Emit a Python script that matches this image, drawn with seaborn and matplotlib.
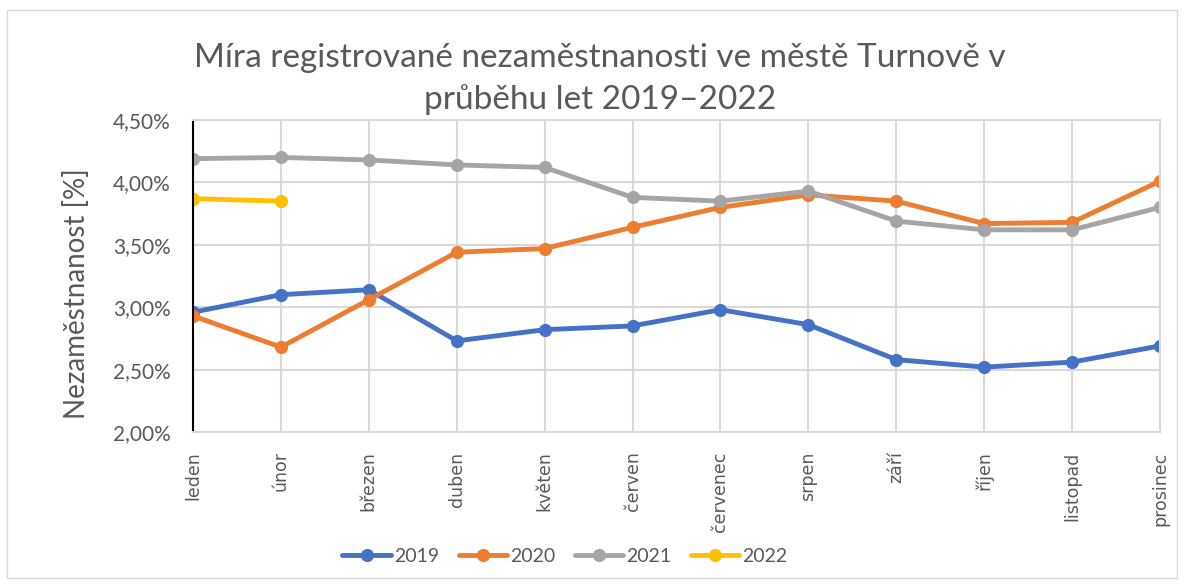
import matplotlib
matplotlib.use("Agg")
import matplotlib.pyplot as plt
import seaborn as sns
import pandas as pd
import numpy as np
from matplotlib.patches import Rectangle
from matplotlib.ticker import FuncFormatter

months = ["leden", "únor", "březen", "duben", "květen", "červen", "červenec",
          "srpen", "září", "říjen", "listopad", "prosinec"]
years = ["2019", "2020", "2021", "2022"]
v2019 = [2.96, 3.10, 3.14, 2.73, 2.82, 2.85, 2.98, 2.86, 2.58, 2.52, 2.56, 2.69]
v2020 = [2.93, 2.68, 3.06, 3.44, 3.47, 3.64, 3.80, 3.90, 3.85, 3.67, 3.68, 4.01]
v2021 = [4.19, 4.20, 4.18, 4.14, 4.12, 3.88, 3.85, 3.93, 3.69, 3.62, 3.62, 3.80]
v2022 = [3.87, 3.85]
colors = ["#4472C4", "#ED7D31", "#A5A5A5", "#FFC000"]

rows = []
for y, vals in zip(years, [v2019, v2020, v2021, v2022]):
    for i, v in enumerate(vals):
        rows.append({"pos": i, "month": months[i], "year": y, "value": v})
df = pd.DataFrame(rows)

sns.set_theme(style="white")
plt.rcParams['font.family'] = ['Lato', 'DejaVu Sans']

fig = plt.figure(figsize=(11.84, 5.88), dpi=100)
W, H = 1184, 588
ax = fig.add_axes([193 / W, 1 - 432 / H, (1160 - 193) / W, (432 - 120) / H])

sns.lineplot(data=df, x="pos", y="value", hue="year", palette=colors,
             marker="o", markersize=9.5, markeredgewidth=0, linewidth=3.5,
             ax=ax, legend=True, sort=False)

ax.set_xlim(0, len(months) - 1)
ax.set_ylim(2.0, 4.5)
ax.set_yticks(np.arange(2.0, 4.51, 0.5))
ax.yaxis.set_major_formatter(FuncFormatter(lambda v, p: f"{v:.2f}%".replace(".", ",")))
ax.set_xticks(range(len(months)))
ax.set_xticklabels(months, rotation=90, family=['DejaVu Sans'], fontsize=12.5, color="#595959")
ax.tick_params(axis="y", labelsize=15, colors="#595959", length=0, pad=16)
ax.tick_params(axis="x", length=0, pad=14)
ax.grid(True, color="#D9D9D9", linewidth=1.5)
ax.set_axisbelow(True)
for s in ["top", "right", "bottom"]:
    ax.spines[s].set_color("#D9D9D9")
    ax.spines[s].set_linewidth(1.5)
ax.spines["left"].set_color("black")
ax.spines["left"].set_linewidth(1.5)
ax.set_xlabel("")
ax.set_ylabel("Nezaměstnanost [%]", fontsize=20, color="#595959", labelpad=10)
ax.yaxis.set_label_coords(-0.106, (432 - 294) / 312)

handles, labels = ax.get_legend_handles_labels()
ax.legend_.remove()
fig.legend(handles, labels, loc="center", bbox_to_anchor=(565 / W, 1 - 556 / H),
           ncol=4, frameon=False, fontsize=14, handlelength=2.5, columnspacing=1.0,
           handletextpad=0.15, labelcolor="#595959")

fig.text(600 / W, 1 - 79 / H,
         "Míra registrované nezaměstnanosti ve městě Turnově v\nprůběhu let 2019–2022",
         ha="center", va="center", fontsize=24, color="#595959", linespacing=1.42)

fig.patches.append(Rectangle((7 / W, 10 / H), (1177 - 7) / W, (578 - 10) / H,
                             transform=fig.transFigure, fill=False,
                             edgecolor="#D9D9D9", linewidth=1))

fig.savefig("out.png", dpi=100)
